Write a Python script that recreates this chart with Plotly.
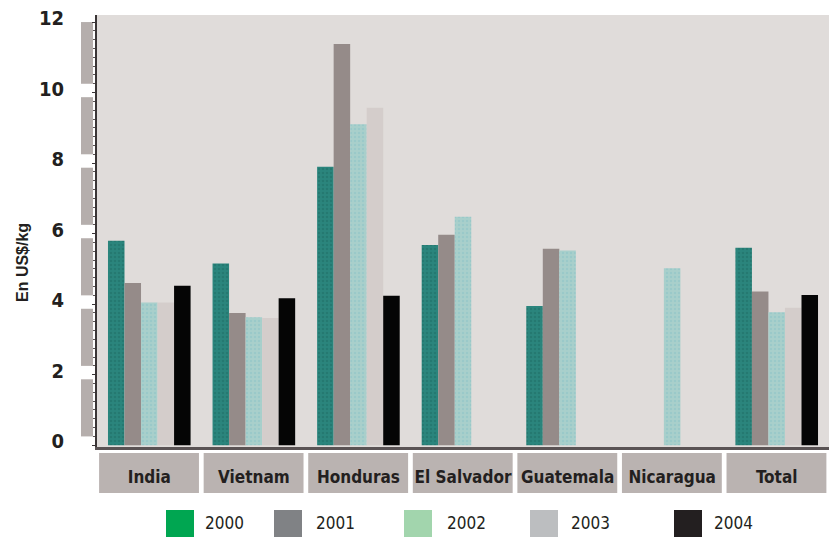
import plotly.graph_objects as go

categories = ["India", "Vietnam", "Honduras", "El Salvador", "Guatemala", "Nicaragua", "Total"]
years = ["2000", "2001", "2002", "2003", "2004"]
v2000 = [5.8, 5.15, 7.9, 5.68, 3.95, None, 5.6]
v2001 = [4.6, 3.75, 11.38, 5.97, 5.57, None, 4.36]
v2002 = [4.05, 3.63, 9.1, 6.48, 5.52, 5.02, 3.77]
v2003 = [4.05, 3.61, 9.57, None, None, None, 3.9]
v2004 = [4.52, 4.17, 4.24, None, None, None, 4.26]
series = [v2000, v2001, v2002, v2003, v2004]
yticks = [0, 2, 4, 6, 8, 10, 12]

bar_colors = ["#2b857d", "#958b89", "#a9cfcb", "#d4cdcb", "#050505"]
pat_fg = ["#1f6d66", None, "#8cc3c8", None, None]
legend_colors = ["#00a651", "#808285", "#a2d5ad", "#bcbec0", "#231f20"]

NARROW = "DejaVu Sans Condensed, Liberation Sans Narrow, Arial Narrow, Liberation Sans, Arial"

fig = go.Figure()
for i, (yr, vals) in enumerate(zip(years, series)):
    marker = dict(color=bar_colors[i], line=dict(width=0))
    if pat_fg[i]:
        marker["pattern"] = dict(shape=".", fgcolor=pat_fg[i], size=4, solidity=0.35)
    fig.add_trace(go.Bar(name=yr, x=categories, y=vals, marker=marker, showlegend=False))

# plot geometry (pixels)
L, R, T, B = 97, 0, 15, 91
W, H = 829, 538
pw, ph = W - L - R, H - T - B

def px_x(px):
    return (px - L) / pw

def px_y(py):
    return (H - B - py) / ph

shapes = []
# y-axis side wall bands
for t in yticks[:-1]:
    top = t + 2 - 0.13 if t < 10 else 12
    shapes.append(dict(type="rect", xref="paper", yref="y", x0=px_x(81), x1=px_x(93),
                       y0=t + 0.25, y1=top, fillcolor="#b5aeac", line=dict(width=0), layer="below"))
# category label boxes
for i, c in enumerate(categories):
    shapes.append(dict(type="rect", xref="x", yref="paper", x0=i - 0.48, x1=i + 0.475,
                       y0=px_y(493), y1=px_y(453), fillcolor="#bab3b1", line=dict(width=0), layer="below"))

# legend
leg_sq = [166, 274, 404, 530, 674]
leg_lab = [203, 314, 445, 569, 712]
annotations = []
for i, yr in enumerate(years):
    shapes.append(dict(type="rect", xref="paper", yref="paper", x0=px_x(leg_sq[i]), x1=px_x(leg_sq[i] + 28),
                       y0=px_y(537), y1=px_y(510), fillcolor=legend_colors[i], line=dict(width=0)))
    annotations.append(dict(text=yr, xref="paper", yref="paper", x=px_x(leg_lab[i]), y=px_y(523),
                            xanchor="left", yanchor="middle", showarrow=False,
                            font=dict(family=NARROW, size=17, color="#231f20")))

annotations.append(dict(text="<b>En US$/kg</b>", xref="paper", yref="paper", x=px_x(22), y=px_y(263),
                        textangle=-90, xanchor="center", yanchor="middle", showarrow=False,
                        font=dict(family="Liberation Sans, Arial", size=16, color="#231f20")))

fig.update_layout(
    width=W, height=H,
    margin=dict(l=L, r=R, t=T, b=B),
    paper_bgcolor="white",
    plot_bgcolor="#e0dcda",
    barmode="group",
    bargap=0.21,
    bargroupgap=0,
    shapes=shapes,
    annotations=annotations,
    showlegend=False,
    xaxis=dict(
        type="category",
        range=[-0.5, 6.5],
        showline=True, linecolor="#5a5354", linewidth=3,
        ticks="", showgrid=False,
        tickfont=dict(family=NARROW, size=17, color="#231f20"),
        tickvals=categories,
        ticktext=["<b>%s</b>" % c for c in categories],
        ticklabelstandoff=13,
    ),
    yaxis=dict(
        range=[-0.05, 12.2],
        tickvals=yticks,
        ticktext=["<b>%d</b>" % v for v in yticks],
        showgrid=False, zeroline=False,
        showline=True, linecolor="#3a3536", linewidth=2,
        ticks="outside", ticklen=3, tickcolor="#3a3536",
        minor=dict(dtick=0.25, ticks="outside", ticklen=2, tickcolor="#5a5354"),
        tickfont=dict(family=NARROW, size=20, color="#231f20"),
        ticklabelstandoff=24,
        ticklabelshift=-4,
    ),
)

fig.write_html("out.html")
